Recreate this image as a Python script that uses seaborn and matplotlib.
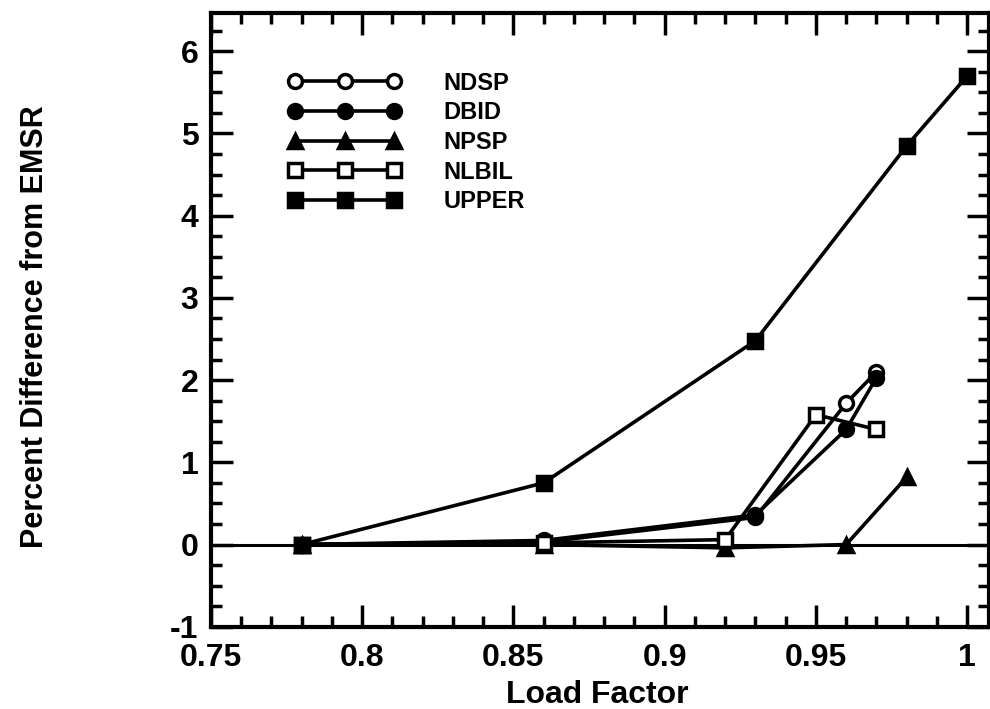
#!/usr/bin/env python
# -*- coding: utf-8 -*-

"""
Percent difference from EMSR vs load factor
"""

import matplotlib
matplotlib.use('Agg')
import pandas as pd
import matplotlib.pyplot as plt
from matplotlib.ticker import MultipleLocator
import seaborn as sns

# 数据
methods = ['NDSP', 'DBID', 'NPSP', 'NLBIL', 'UPPER']

load_ndsp = [0.78, 0.86, 0.93, 0.96, 0.97]
diff_ndsp = [0.0, 0.03, 0.33, 1.72, 2.10]

load_dbid = [0.78, 0.86, 0.93, 0.96, 0.97]
diff_dbid = [0.0, 0.05, 0.36, 1.40, 2.03]

load_npsp = [0.78, 0.86, 0.92, 0.96, 0.98]
diff_npsp = [0.0, 0.0, -0.04, 0.0, 0.82]

load_nlbil = [0.78, 0.86, 0.92, 0.95, 0.97]
diff_nlbil = [0.0, 0.02, 0.06, 1.58, 1.40]

load_upper = [0.78, 0.86, 0.93, 0.98, 1.0]
diff_upper = [0.0, 0.75, 2.48, 4.85, 5.70]

x_ticks = [0.75, 0.80, 0.85, 0.90, 0.95, 1.00]
x_tick_labels = ['0.75', '0.8', '0.85', '0.9', '0.95', '1']
y_ticks = [-1, 0, 1, 2, 3, 4, 5, 6]

df = pd.concat([
    pd.DataFrame({'load': load_ndsp, 'diff': diff_ndsp, 'method': 'NDSP'}),
    pd.DataFrame({'load': load_dbid, 'diff': diff_dbid, 'method': 'DBID'}),
    pd.DataFrame({'load': load_npsp, 'diff': diff_npsp, 'method': 'NPSP'}),
    pd.DataFrame({'load': load_nlbil, 'diff': diff_nlbil, 'method': 'NLBIL'}),
    pd.DataFrame({'load': load_upper, 'diff': diff_upper, 'method': 'UPPER'}),
], ignore_index=True)

# 样式
marker_style = {
    'NDSP': dict(marker='o', mfc='white'),
    'DBID': dict(marker='o', mfc='black'),
    'NPSP': dict(marker='^', mfc='black'),
    'NLBIL': dict(marker='s', mfc='white'),
    'UPPER': dict(marker='s', mfc='black'),
}

sns.set_theme(style='ticks')
plt.rcParams['font.family'] = ['Liberation Sans', 'DejaVu Sans']
plt.rcParams['font.weight'] = 'bold'
plt.rcParams['axes.unicode_minus'] = False
plt.rcParams['text.color'] = 'black'
plt.rcParams['axes.labelcolor'] = 'black'
plt.rcParams['xtick.color'] = 'black'
plt.rcParams['ytick.color'] = 'black'

fig = plt.figure(figsize=(9.9, 7.09), dpi=100)
ax = fig.add_axes([0.213, 0.116, 0.786, 0.865])

ax.axhline(0, color='black', lw=2.2, zorder=1)

for name in methods:
    sub = df[df['method'] == name]
    sns.lineplot(data=sub, x='load', y='diff', ax=ax, color='black',
                 estimator=None, sort=False, lw=2.6, ms=10, mew=2.5,
                 mec='black', label=name, **marker_style[name])

ax.set_xlim(0.75, 1.0072)
ax.set_ylim(-1, 6.46)
ax.set_xticks(x_ticks)
ax.set_xticklabels(x_tick_labels)
ax.set_yticks(y_ticks)
ax.xaxis.set_minor_locator(MultipleLocator(0.01))
ax.yaxis.set_minor_locator(MultipleLocator(0.25))

ax.tick_params(which='both', direction='in', top=True, right=True,
               color='black', width=2.5, labelcolor='black')
ax.tick_params(which='major', length=16, labelsize=23)
ax.tick_params(axis='x', which='major', pad=12)
ax.tick_params(axis='y', which='major', pad=9)
ax.tick_params(which='minor', length=8)
for lab in ax.get_xticklabels() + ax.get_yticklabels():
    lab.set_fontweight('bold')

for sp in ax.spines.values():
    sp.set_linewidth(3)
    sp.set_color('black')

ax.set_xlabel('Load Factor', fontsize=23, fontweight='bold', color='black')
ax.set_ylabel('Percent Difference from EMSR', fontsize=22, fontweight='bold',
              color='black')
ax.xaxis.set_label_coords(0.497, -0.087)
ax.yaxis.set_label_coords(-0.207, 0.49)

handles, labels = ax.get_legend_handles_labels()
leg = ax.legend(handles, labels, loc='upper left', bbox_to_anchor=(0.099, 0.905),
                frameon=False, numpoints=3, handlelength=4.8, handletextpad=1.8,
                labelspacing=0.28, borderpad=0, borderaxespad=0,
                prop={'size': 17, 'weight': 'bold'})
for t in leg.get_texts():
    t.set_color('black')

fig.savefig('out.png', dpi=100)
plt.close(fig)
